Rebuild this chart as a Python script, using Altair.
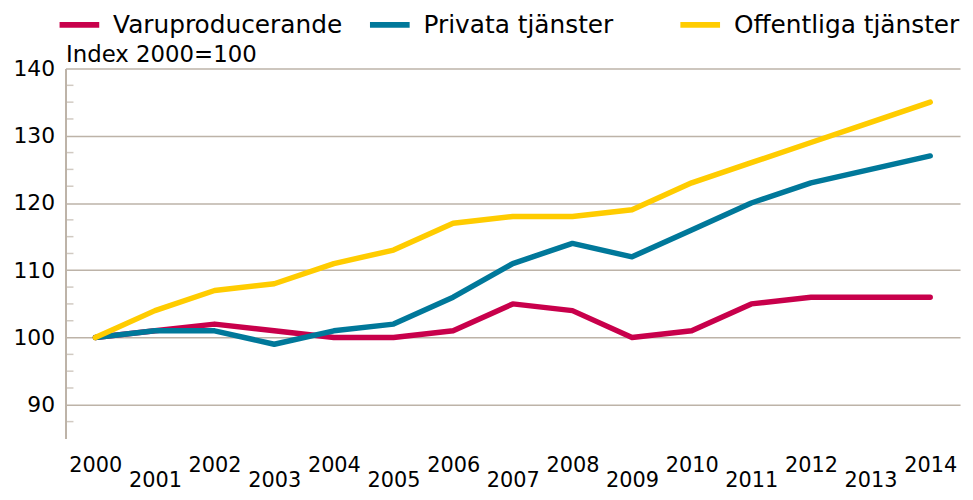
import altair as alt
import pandas as pd

years = list(range(2000, 2015))
varu = [100, 101, 102, 101, 100, 100, 101, 105, 104, 100, 101, 105, 106, 106, 106]
privata = [100, 101, 101, 99, 101, 102, 106, 111, 114, 112, 116, 120, 123, 125, 127]
offentliga = [100, 104, 107, 108, 111, 113, 117, 118, 118, 119, 123, 126, 129, 132, 135]
series_names = ["Varuproducerande", "Privata tjänster", "Offentliga tjänster"]
series_colors = ["#c8004b", "#00789a", "#ffcc00"]
y_major = [90, 100, 110, 120, 130, 140]
y_minor = [87.5, 92.5, 95, 97.5, 102.5, 105, 107.5, 112.5, 115, 117.5,
           122.5, 125, 127.5, 132.5, 135, 137.5]

rows = []
for name, vals in zip(series_names, [varu, privata, offentliga]):
    for yr, v in zip(years, vals):
        rows.append({"year": yr, "value": v, "series": name})
df = pd.DataFrame(rows)

FONT = "DejaVu Sans"
GRID = "#bdb3a8"
TITLE = "Index 2000=100"

yscale = alt.Scale(domain=[85, 140], nice=False, zero=False)
xscale = alt.Scale(domain=[1999.5, 2014.5], nice=False, zero=False)

yaxis = alt.Axis(values=y_major, grid=True, gridColor=GRID, gridWidth=1.5,
                 domain=True, domainColor=GRID, domainWidth=2,
                 ticks=False, tickSize=0, labelPadding=11, labelFontSize=22,
                 labelFont=FONT, labelColor="#000000", labelOverlap=False,
                 title=TITLE, titleAngle=0, titleAlign="left",
                 titleBaseline="alphabetic", titleX=0, titleY=-7,
                 titleFont=FONT, titleFontSize=23, titleFontWeight="normal",
                 titleColor="#000000")

lines = alt.Chart(df).mark_line(strokeWidth=5.5, strokeCap="round", strokeJoin="round").encode(
    x=alt.X("year:Q", scale=xscale,
            axis=alt.Axis(values=years, format="d", grid=False, domain=False, ticks=False,
                          tickSize=0, labelPadding=16, labelFontSize=21, labelFont=FONT,
                          labelColor="#000000", labelBaseline="top", labelLineHeight=15,
                          labelOverlap=False, labelFlush=False,
                          labelExpr="datum.value % 2 == 1 ? ['', datum.label] : datum.label",
                          title=None)),
    y=alt.Y("value:Q", scale=yscale, axis=yaxis),
    color=alt.Color("series:N",
                    scale=alt.Scale(domain=series_names, range=series_colors),
                    legend=alt.Legend(orient="none", legendX=-9, legendY=-67,
                                      direction="horizontal", columns=3,
                                      gridAlign="all",
                                      symbolType="stroke", symbolSize=1600,
                                      symbolStrokeWidth=6, labelOffset=11,
                                      labelFont=FONT, labelFontSize=25,
                                      labelColor="#000000", columnPadding=15,
                                      padding=0, title=None, labelLimit=400)),
)

minor = alt.Chart(pd.DataFrame({"value": y_minor})).mark_tick(
    color=GRID, thickness=1.5, size=7
).encode(
    y=alt.Y("value:Q", scale=yscale, axis=yaxis),
    x=alt.value(4.5),
)

chart = alt.layer(lines, minor).properties(
    width=902, height=373,
    autosize=alt.AutoSizeParams(type="none"),
    padding={"left": 58, "top": 59, "right": 5, "bottom": 52},
    background="white",
).configure_view(stroke=None)

chart.save("out.html", embed_options={"renderer": "svg", "actions": False})
